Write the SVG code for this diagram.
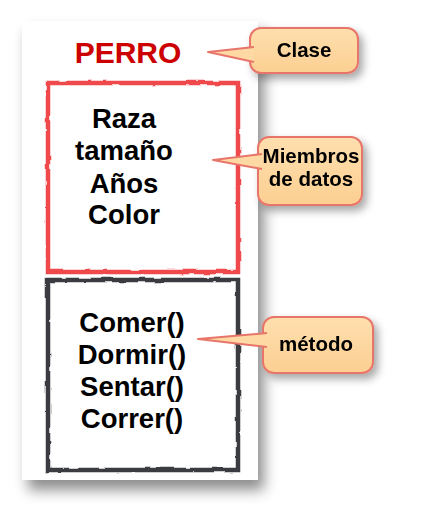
<svg xmlns="http://www.w3.org/2000/svg" width="421" height="523" viewBox="0 0 421 523">
<defs>
<filter id="cardShadow" x="-20%" y="-20%" width="150%" height="150%">
<feDropShadow dx="6" dy="10" stdDeviation="7" flood-color="#000" flood-opacity="0.45"/>
</filter>
<filter id="calloutShadow" x="-20%" y="-30%" width="150%" height="180%">
<feDropShadow dx="4" dy="5" stdDeviation="4" flood-color="#000" flood-opacity="0.35"/>
</filter>
<filter id="rough" x="-5%" y="-5%" width="110%" height="110%">
<feTurbulence type="fractalNoise" baseFrequency="0.08" numOctaves="2" seed="3" result="n"/>
<feDisplacementMap in="SourceGraphic" in2="n" scale="3" xChannelSelector="R" yChannelSelector="G"/>
</filter>
<linearGradient id="cfill" x1="0" y1="0" x2="0" y2="1">
<stop offset="0" stop-color="#fedfae"/>
<stop offset="1" stop-color="#fccf92"/>
</linearGradient>
</defs>
<style>
text{font-family:"Liberation Sans",Arial,sans-serif;font-weight:bold;text-anchor:middle;fill:#000}
.title{fill:#cc0000;font-size:30px}
.item{font-size:27.5px}
.ct{font-size:20.5px}
.callout{fill:url(#cfill);stroke:#e8756a;stroke-width:2}
.wedge{fill:#fed9a4;stroke:#e8756a;stroke-width:2;stroke-linejoin:round}
</style>
<rect width="421" height="523" fill="#fff"/>
<g id="card" filter="url(#cardShadow)">
<rect x="22" y="21" width="236" height="459" fill="#fff"/>
</g>
<g id="class-name">
<text class="title" x="128" y="63">PERRO</text>
</g>
<g id="data-members">
<rect x="48" y="83" width="190" height="189" fill="none" stroke="#f0484c" stroke-width="4.5" filter="url(#rough)"/>
<text class="item" x="124" y="128">Raza</text>
<text class="item" x="124" y="160">tamaño</text>
<text class="item" x="124" y="193">Años</text>
<text class="item" x="124" y="224">Color</text>
</g>
<g id="methods">
<rect x="48" y="280" width="190" height="190" fill="none" stroke="#3b3b42" stroke-width="4.5" filter="url(#rough)"/>
<text class="item" x="132" y="332">Comer()</text>
<text class="item" x="132" y="364">Dormir()</text>
<text class="item" x="132" y="396">Sentar()</text>
<text class="item" x="132" y="428">Correr()</text>
</g>
<g id="callout-clase" filter="url(#calloutShadow)">
<rect class="callout" x="250" y="28" width="108" height="45" rx="11"/>
<text class="ct" x="304" y="57">Clase</text>
</g>
<g id="callout-miembros" filter="url(#calloutShadow)">
<rect class="callout" x="258" y="137" width="104" height="68" rx="11"/>
<text class="ct" x="311" y="163">Miembros</text>
<text class="ct" x="311" y="186">de datos</text>
</g>
<g id="callout-metodo" filter="url(#calloutShadow)">
<rect class="callout" x="263" y="317" width="110" height="56" rx="11"/>
<text class="ct" x="316" y="351">método</text>
</g>
<g id="connectors">
<path class="wedge" d="M254,47 L208,52 L254,62"/>
<path class="wedge" d="M262,154 L213,160 L262,169"/>
<path class="wedge" d="M267,333 L198,339 L267,347"/>
</g>
</svg>
